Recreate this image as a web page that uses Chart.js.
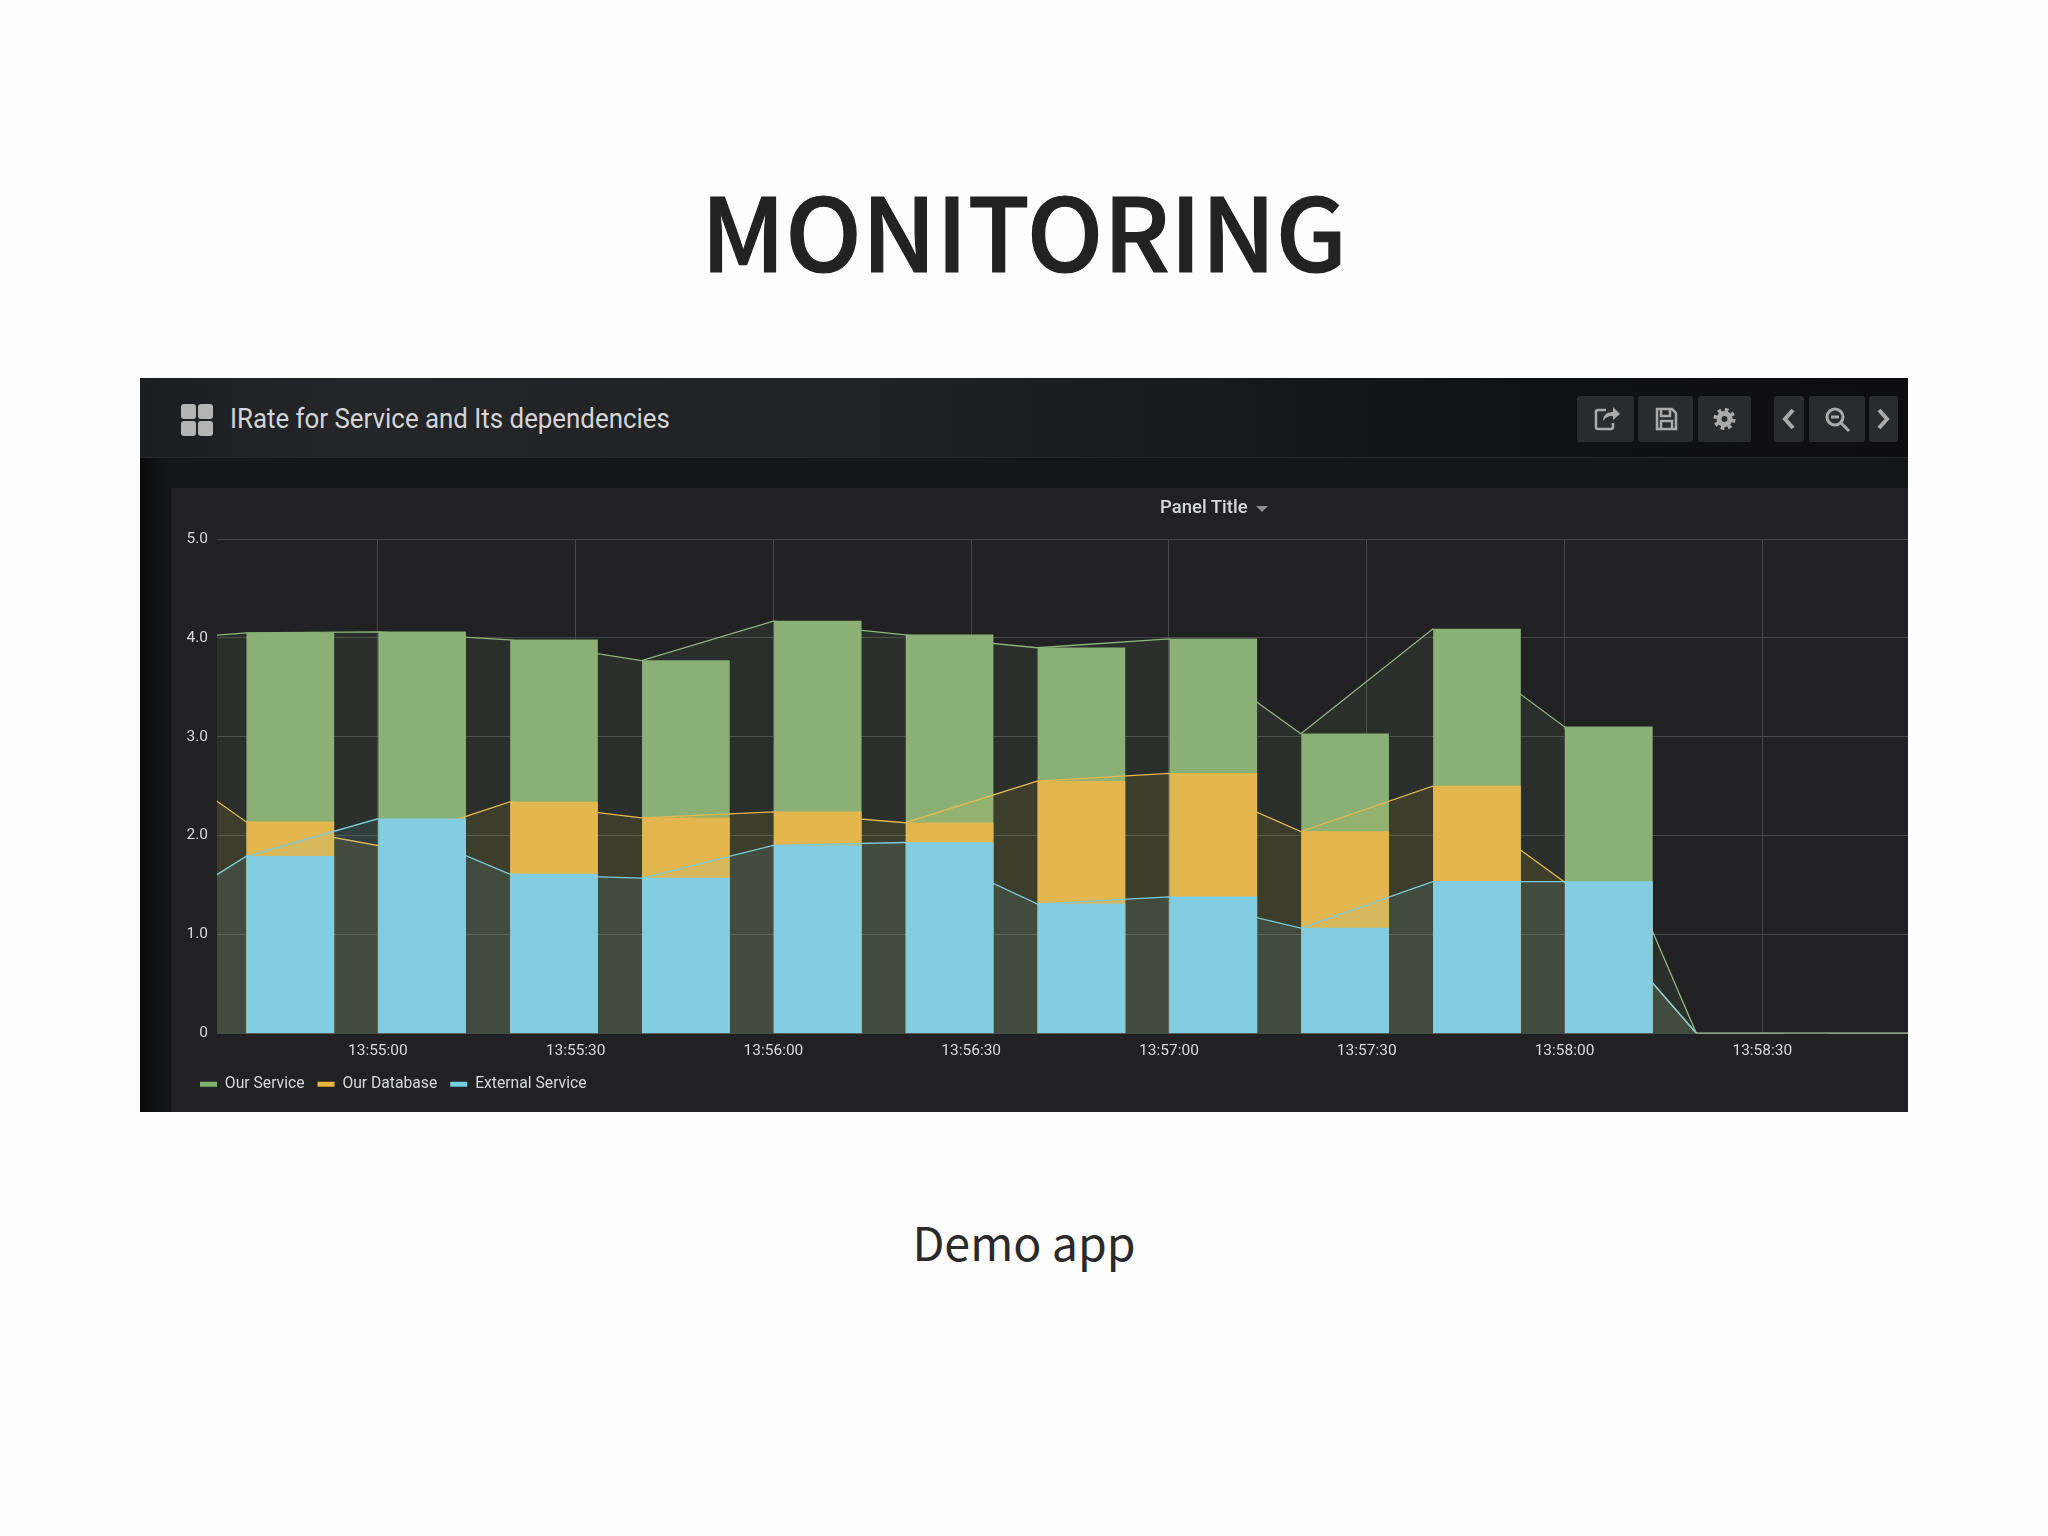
<!DOCTYPE html>
<html>
<head>
<meta charset="utf-8">
<title>Monitoring</title>
<script src="https://cdn.jsdelivr.net/npm/chart.js@4"></script>
<style>
  html, body { margin: 0; padding: 0; background: #fdfdfd; }
  #page { position: relative; width: 2048px; height: 1536px; overflow: hidden; }
  #heading { position: absolute; left: 0; width: 2048px; top: 158px; text-align: center; font: 500 101.500px "Noto Sans CJK JP"; color: #222; -webkit-text-stroke: 1.200px #222; line-height: 140px; }
  #caption { position: absolute; left: 0; width: 2048px; top: 1206px; text-align: center; font: 400 46.500px "Noto Sans CJK JP"; color: #2a2a2a; line-height: 70px; }
  #card { position: absolute; left: 140px; top: 378px; width: 1768px; height: 734px; background: linear-gradient(90deg, #0b0b0c 0, #151618 30px, #141517 100%); overflow: hidden; }
  #bar { position: absolute; left: 0; top: 0; width: 100%; height: 79px; background: linear-gradient(90deg, #1c1d1f 0, #242528 12%, #1f2022 45%, #111214 75%, #0e0e10 100%); border-bottom: 1px solid #262729; }
  #logo { position: absolute; left: 41px; top: 26px; width: 32px; height: 32px; display: grid; grid-template-columns: 1fr 1fr; gap: 2px; }
  #logo i { background: #b4b4b4; border-radius: 3px; }
  #name { position: absolute; left: 90px; top: 21px; font: 400 27.500px Roboto; color: #d4d5d6; line-height: 40px; white-space: nowrap; transform: scaleX(0.94); transform-origin: 0 0; }
  .btn { position: absolute; top: 18px; height: 46px; background: #2a2b2d; border-radius: 3px; }
  .btn svg { position: absolute; left: 0; top: 0; width: 100%; height: 100%; }
  #panel { position: absolute; left: 31px; top: 110px; width: 1737px; height: 624px; background: #212124; }
  #panelTitle { position: absolute; left: 989px; top: 8px; line-height: 32px; font: 500 18.500px Roboto; color: #d8d9da; white-space: nowrap; }
  #panelTitle b { display: inline-block; margin-left: 8px; border: 6px solid transparent; border-top-color: #8e8e90; border-bottom: 0; vertical-align: 1px; }
  canvas { position: absolute; left: 0; top: 0; }
</style>
</head>
<body>
<div id="page">
  <div id="heading">MONITORING</div>
  <div id="card">
    <div id="bar">
      <div id="logo"><i></i><i></i><i></i><i></i></div>
      <div id="name">IRate for Service and Its dependencies</div>
      <div class="btn" style="left:1437px;width:57px"><svg viewBox="0 0 57 46" fill="none" stroke="#aaa" stroke-width="2.500"><path d="M29 14h-8a2 2 0 0 0-2 2v15a2 2 0 0 0 2 2h13a2 2 0 0 0 2-2v-4"/><path d="M26 25c0-6 4-9 10-9v-5l7 7-7 6v-4c-5 0-8 2-10 5z" fill="#aaa" stroke="none"/></svg></div>
      <div class="btn" style="left:1498px;width:55px"><svg viewBox="0 0 55 46" fill="none" stroke="#aaa" stroke-width="2.500"><path d="M19 13h15l4 4v16H19z"/><path d="M23 13v7h9v-7M23 33v-8h11v8"/></svg></div>
      <div class="btn" style="left:1558px;width:53px"><svg viewBox="0 0 53 46" fill="none" stroke="#aaa"><circle cx="26.500" cy="23" r="5.500" stroke-width="5"/><circle cx="26.500" cy="23" r="9" stroke-width="4" stroke-dasharray="3.600 3.470"/></svg></div>
      <div class="btn" style="left:1634px;width:30px"><svg viewBox="0 0 30 46" fill="none" stroke="#aaa" stroke-width="4"><path d="M19 14l-8 9 8 9"/></svg></div>
      <div class="btn" style="left:1669px;width:56px"><svg viewBox="0 0 56 46" fill="none" stroke="#aaa" stroke-width="3"><circle cx="26" cy="21" r="8"/><path d="M22 21h8M32 27l8 8"/></svg></div>
      <div class="btn" style="left:1729px;width:29px"><svg viewBox="0 0 29 46" fill="none" stroke="#aaa" stroke-width="4"><path d="M10 14l8 9-8 9"/></svg></div>
    </div>
    <div id="panel">
      <canvas id="chart" width="1737" height="624"></canvas>
      <div id="panelTitle">Panel Title<b></b></div>
    </div>
  </div>
  <div id="caption">Demo app</div>
</div>
<script>
const times = ["13:54:20", "13:54:40", "13:55:00", "13:55:20", "13:55:40", "13:56:00", "13:56:20", "13:56:40", "13:57:00", "13:57:20", "13:57:40", "13:58:00", "13:58:20", "13:58:40", "13:59:00"];
const ourService = [3.95, 4.05, 4.06, 3.98, 3.77, 4.17, 4.03, 3.90, 3.99, 3.03, 4.09, 3.10, 0, 0, 0];
const ourDatabase = [3.08, 2.14, 1.90, 2.34, 2.18, 2.24, 2.13, 2.55, 2.63, 2.04, 2.50, 1.53, 0, 0, 0];
const externalService = [0.95, 1.79, 2.17, 1.61, 1.57, 1.90, 1.93, 1.31, 1.38, 1.065, 1.535, 1.535, 0, 0, 0];
const xTicks = ["13:55:00", "13:55:30", "13:56:00", "13:56:30", "13:57:00", "13:57:30", "13:58:00", "13:58:30"];
const yTicks = [0, 1, 2, 3, 4, 5];

const xMin = "13:54:35.600";
const xMax = "13:58:52.100";
const barShift = 6.72; // bars start at the sample and run to the right, chart.js centers them

const secs = (s) => {
  const p = s.split(":").map(Number);
  return p[0] * 3600 + p[1] * 60 + p[2];
};
const clock = (v) => {
  const d = (n) => String(n).padStart(2, "0");
  return d(Math.floor(v / 3600)) + ":" + d(Math.floor(v / 60) % 60) + ":" + d(Math.round(v % 60));
};
const linePts = (vals) => vals.map((y, i) => ({ x: secs(times[i]), y }));
const barPts = (vals) => vals.map((y, i) => ({ x: secs(times[i]) + barShift, y }));

const lineDataset = (label, vals, color, fill, order) => ({
  type: "line",
  label,
  data: linePts(vals),
  borderColor: color,
  backgroundColor: fill,
  borderWidth: 1.3,
  pointRadius: 0,
  tension: 0,
  fill: "origin",
  order,
});
const barDataset = (label, vals, color, order) => ({
  type: "bar",
  label,
  data: barPts(vals),
  backgroundColor: color,
  borderWidth: 0,
  barThickness: 87,
  grouped: false,
  order,
});

const legendColors = ["#7EB26D", "#EAB839", "#6ED0E0"];

// each series paints fill and line, then its bars, so later series cover earlier ones
new Chart(document.getElementById("chart").getContext("2d"), {
  data: {
    datasets: [
      lineDataset("Our Service", ourService, "#8fb57c", "rgba(126,178,109,0.1)", 6),
      lineDataset("Our Database", ourDatabase, "#E6B84F", "rgba(234,184,57,0.1)", 4),
      lineDataset("External Service", externalService, "#7CCBDD", "rgba(110,208,224,0.1)", 2),
      barDataset("Our Service bars", ourService, "#8AB075", 5),
      barDataset("Our Database bars", ourDatabase, "#E4B64E", 3),
      barDataset("External Service bars", externalService, "#83CDE2", 1),
    ],
  },
  options: {
    responsive: false,
    animation: false,
    layout: { padding: { top: 51, right: 0, left: 16, bottom: 10 } },
    plugins: {
      tooltip: { enabled: false },
      legend: {
        position: "bottom",
        align: "start",
        labels: {
          color: "#d8d9da",
          font: { family: "Roboto", size: 15.7 },
          boxWidth: 17,
          boxHeight: 5,
          padding: 13,
          generateLabels: (chart) =>
            chart.data.datasets.slice(0, 3).map((ds, i) => ({
              text: ds.label,
              fillStyle: legendColors[i],
              strokeStyle: legendColors[i],
              lineWidth: 0,
              fontColor: "#d8d9da",
              datasetIndex: i,
            })),
        },
      },
    },
    scales: {
      x: {
        type: "linear",
        offset: false,
        min: secs(xMin),
        max: secs(xMax),
        grid: { color: "#47474a", lineWidth: 1, drawTicks: false, offset: false },
        border: { display: false },
        afterBuildTicks: (axis) => {
          axis.ticks = xTicks.map((t) => ({ value: secs(t) }));
        },
        afterFit: (axis) => {
          axis.height = 30;
        },
        ticks: {
          autoSkip: false,
          maxRotation: 0,
          padding: 9,
          color: "#d8d9da",
          font: { family: "Roboto", size: 15.5 },
          callback: (v) => clock(v),
        },
      },
      y: {
        min: 0,
        max: 5,
        grid: { color: "#47474a", lineWidth: 1, drawTicks: false },
        border: { display: false },
        afterBuildTicks: (axis) => {
          axis.ticks = yTicks.map((value) => ({ value }));
        },
        afterFit: (axis) => {
          axis.width = 30;
        },
        ticks: {
          padding: 9,
          color: "#d8d9da",
          font: { family: "Roboto", size: 15.5 },
          callback: (v) => (v === 0 ? "0" : v.toFixed(1)),
        },
      },
    },
  },
});
</script>
</body>
</html>
